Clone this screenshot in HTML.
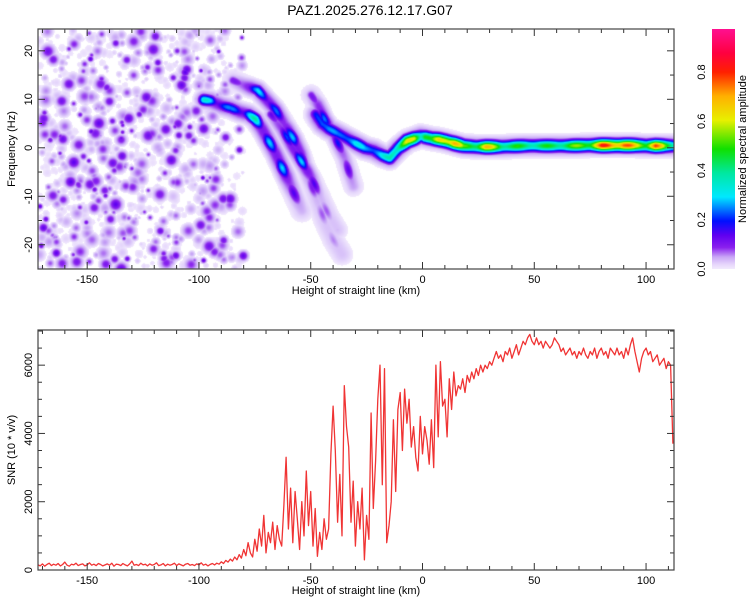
<!DOCTYPE html>
<html><head><meta charset="utf-8"><style>
html,body{margin:0;padding:0;background:#fff;}
#wrap{position:relative;width:750px;height:600px;overflow:hidden;font-family:"Liberation Sans",sans-serif;}
canvas{position:absolute;left:38px;top:29px;}
svg{position:absolute;left:0;top:0;}
</style></head><body>
<div id="wrap">
<canvas id="spec" width="636" height="240"></canvas>
<svg id="svg" width="750" height="600">
<defs><linearGradient id="cbg" x1="0" y1="1" x2="0" y2="0">
<stop offset="0" stop-color="#f2eafd"/><stop offset="0.02" stop-color="#e6d5fb"/><stop offset="0.05" stop-color="#c9a6f6"/><stop offset="0.09" stop-color="#8a20ee"/><stop offset="0.14" stop-color="#6000f0"/><stop offset="0.2" stop-color="#0010ff"/><stop offset="0.3" stop-color="#00e8ff"/><stop offset="0.4" stop-color="#00e8a0"/><stop offset="0.5" stop-color="#10e000"/><stop offset="0.62" stop-color="#e8f000"/><stop offset="0.72" stop-color="#ffb000"/><stop offset="0.82" stop-color="#ff2000"/><stop offset="0.9" stop-color="#ff0040"/><stop offset="1" stop-color="#ff1090"/>
</linearGradient></defs>
<text x="370" y="15" font-size="14" text-anchor="middle" fill="#000">PAZ1.2025.276.12.17.G07</text>
<g id="top"></g>
<g id="bot"></g>
<rect x="712" y="29" width="23" height="240" fill="url(#cbg)"/>
<g id="cb"></g>
<text transform="translate(746,149) rotate(-90)" font-size="11" text-anchor="middle">Normalized spectral amplitude</text>
<text transform="translate(15,149) rotate(-90)" font-size="11" text-anchor="middle">Frequency (Hz)</text>
<text x="356" y="294" font-size="11" text-anchor="middle">Height of straight line (km)</text>
<text transform="translate(15,450) rotate(-90)" font-size="11" text-anchor="middle">SNR (10 * v/v)</text>
<text x="356" y="594" font-size="11" text-anchor="middle">Height of straight line (km)</text>
</svg>
</div>
<script>
// ---- data ----
const xTicks=[-150,-100,-50,0,50,100];
const freqTicks=[-20,-10,0,10,20];
const snrTicks=[0,2000,4000,6000];
const cbTicks=[0.0,0.2,0.4,0.6,0.8];
const track1=[[-98,10,.35],[-95,9.8,.45],[-90,8.8,.3],[-86,8.3,.25],[-82,7.5,.35],[-78,7,.45],[-75,6,.4],[-72,4,.25],[-69,1.5,.3],[-66,-1,.25],[-63,-4,.3],[-60,-7,.2],[-57,-10,.15],[-54,-13,.1]];
const track2=[[-85,14,.12],[-80,13,.18],[-74,12,.3],[-70,10,.35],[-66,8,.25],[-62,5,.2],[-58,2,.3],[-55,-1,.25],[-52,-5,.15],[-48,-10,.1],[-44,-15,.08],[-40,-19,.07],[-36,-22,.05]];
const track3=[[-68,7,.15],[-63,4,.2],[-58,0,.25],[-54,-3,.3],[-50,-6,.2],[-46,-10,.1],[-42,-14,.08],[-38,-17,.06]];
const track4=[[-50,11,.12],[-47,9,.2],[-44,6,.25],[-41,4,.2],[-38,1,.2],[-35,-2,.15],[-33,-5,.15],[-31,-8,.12]];
const track5=[[-48,7,.2],[-45,5,.3],[-42,4,.3],[-38,3,.25],[-34,2,.3],[-30,1,.35],[-26,0,.3],[-22,-.5,.3],[-18,-1.5,.35],[-15,-2,.4],[-11,0,.5],[-7,1.5,.65],[-4,2,.7],[-1,2.5,.45],[1,2.3,.6],[4,2,.5],[7,1.8,.7],[10,1.5,.8],[14,1,.85],[18,.5,.55],[24,.3,.6],[28,.3,.75],[35,.3,.55],[45,.5,.5],[55,.5,.5],[65,.5,.55],[75,.6,.65],[80,.6,.85],[90,.6,.9],[95,.6,.7],[100,.5,.65],[104,.5,.85],[108,.5,.6],[112,.5,.5]];
const snrStartKm=-172;
const snrValues=[
150,120,180,110,160,200,130,170,140,190,
120,160,230,140,110,170,150,200,130,160,
180,120,150,210,140,170,130,190,160,120,
150,180,140,200,110,170,160,130,190,150,
120,180,260,140,160,130,200,150,170,120,
180,140,160,210,130,150,190,120,170,140,
160,200,130,180,150,120,170,190,140,160,
130,180,150,210,140,170,120,160,190,150,
200,170,240,190,280,230,320,260,380,300,
450,350,600,420,800,500,380,900,550,1200,
700,1600,500,1100,800,1400,600,1300,900,700,
1900,3300,1200,2400,800,2300,1500,600,2000,1000,
2900,1300,2300,700,1800,400,1100,600,1500,900,
1200,3400,4800,3500,1400,2800,1000,5400,4200,3600,
1400,2600,700,2000,1200,2400,300,1600,900,4600,
1800,3200,5000,6000,2500,5900,800,1300,2000,4400,
2300,4700,5200,3500,5300,4300,5000,3600,4200,3300,
2900,4500,3400,4200,3800,3100,4400,3000,6000,3900,
6100,4800,5000,3900,5600,4700,5800,5100,5400,5300,
5600,5200,5700,5500,5800,5600,5900,5700,6000,5800,
6000,5900,6100,6000,6200,6400,6200,6300,6100,6400,
6300,6500,6200,6400,6600,6300,6500,6700,6600,6800,
6900,6700,6600,6800,6600,6700,6500,6700,6600,6500,
6600,6800,6700,6600,6400,6500,6300,6400,6500,6300,
6400,6200,6400,6300,6500,6300,6200,6400,6300,6500,
6200,6400,6500,6300,6400,6200,6500,6400,6300,6500,
6300,6400,6200,6500,6300,6600,6800,6400,6100,5800,
6200,6400,6500,6300,6400,6100,6200,6300,6000,6100,
6200,5900,6100,6000,3700];

// ---- axes ----
const L=38,R=674,xmin=-172,xmax=112.5;
const T1=29,B1=269,fmin=-25,fmax=24.5;
const T2=330,B2=570,smin=0,smax=7030;
const xs=k=>L+(k-xmin)/(xmax-xmin)*(R-L);
const yf=h=>T1+(fmax-h)/(fmax-fmin)*(B1-T1);
const ysn=v=>B2-(v-smin)/(smax-smin)*(B2-T2);
const NS='http://www.w3.org/2000/svg';
function mk(p,tag,attrs){const e=document.createElementNS(NS,tag);for(const k in attrs)e.setAttribute(k,attrs[k]);p.appendChild(e);return e;}

function frame(g,T,B,yfun,ymin,ymax,yMinorStep,yLabels,pre){
  for(let k=Math.ceil(xmin/10)*10;k<=xmax;k+=10){
    const maj=k%50===0,len=maj?7:4,x=xs(k);
    const a=mk(g,'line',{x1:x,x2:x,y1:B,y2:B-len,stroke:'#333','stroke-width':1});
    
    
    const b=mk(g,'line',{x1:x,x2:x,y1:T,y2:T+len,stroke:'#333','stroke-width':1});
    
    
  }
  xTicks.forEach(k=>{const t=mk(g,'text',{x:xs(k),y:B+14,'font-size':11,'text-anchor':'middle'});t.textContent=k;
    
    });
  for(let v=Math.ceil(ymin/yMinorStep)*yMinorStep;v<=ymax;v+=yMinorStep){
    const maj=yLabels.includes(v),len=maj?7:4,y=yfun(v);
    const a=mk(g,'line',{x1:L,x2:L+len,y1:y,y2:y,stroke:'#333','stroke-width':1});
    
    
    const b=mk(g,'line',{x1:R,x2:R-len,y1:y,y2:y,stroke:'#333','stroke-width':1});
    
    
  }
  yLabels.forEach(v=>{const y=yfun(v);const t=mk(g,'text',{transform:`translate(${L-6},${y}) rotate(-90)`,'font-size':11,'text-anchor':'middle'});t.textContent=v;
    
    });
  const r=mk(g,'rect',{x:L,y:T,width:R-L,height:B-T,fill:'none',stroke:'#444','stroke-width':1.2});
  
  
}
const gTop=document.getElementById('top'),gBot=document.getElementById('bot');

// SNR line
const pts=snrValues.map((v,i)=>xs(snrStartKm+i).toFixed(1)+','+ysn(v).toFixed(1)).join(' ');
const line=mk(gBot,'polyline',{points:pts,fill:'none',stroke:'#f03434','stroke-width':1.3,'stroke-linejoin':'round'});


frame(gTop,T1,B1,yf,fmin,fmax,5,freqTicks,'top-');
frame(gBot,T2,B2,ysn,smin,smax,500,snrTicks,'bottom-');

// colorbar ticks
const gcb=document.getElementById('cb');
cbTicks.forEach(v=>{const y=269-v/0.975*240;
  const t=mk(gcb,'text',{transform:`translate(705,${y}) rotate(-90)`,'font-size':11,'text-anchor':'middle'});t.textContent=v.toFixed(1);
  
  });

// ---- spectrogram ----
const W=636,H=240,f=new Float32Array(W*H);
function blob(cx,cy,s,a){const r=Math.ceil(3*s);
  for(let y=Math.max(0,Math.floor(cy-r));y<=Math.min(H-1,cy+r);y++)for(let x=Math.max(0,Math.floor(cx-r));x<=Math.min(W-1,cx+r);x++){
    const d=(x-cx)*(x-cx)+(y-cy)*(y-cy);const v=a*Math.exp(-d/(2*s*s));const i=y*W+x;if(v>f[i])f[i]=v;}}
// background noise texture (seeded)
let seed=12345;const rnd=()=>{seed=(seed*1103515245+12345)%2147483648;return seed/2147483648;};
for(let i=0;i<1200;i++){const k=-172+rnd()*92;const hz=fmin+rnd()*(fmax-fmin);const p=rnd();const s=1.6+rnd()*3;
  if(k>-88&&rnd()<0.6)continue;
  blob(xs(k)-L,yf(hz)-T1,s,0.022+p*p*p*p*0.13);}
function drawTrack(tr,s,mod){let d=0;
  for(let j=0;j<tr.length-1;j++){const [k0,h0,a0]=tr[j],[k1,h1,a1]=tr[j+1];
    const x0=xs(k0)-L,y0=yf(h0)-T1,x1=xs(k1)-L,y1=yf(h1)-T1;const len=Math.hypot(x1-x0,y1-y0);const n=Math.max(1,Math.ceil(len));
    for(let q=0;q<n;q++){const t=q/n;const x=x0+(x1-x0)*t,y=y0+(y1-y0)*t;const a=a0+(a1-a0)*t;d+=len/n;
      blob(x,y,s*2.4,0.04);blob(x,y,s*1.6,Math.min(0.12,a*0.5));blob(x,y,s,a*(1-mod+mod*Math.cos(d/4.5)));}}}
drawTrack(track1,3.6,0.3);drawTrack(track2,3.4,0.3);drawTrack(track3,3.2,0.3);drawTrack(track4,3.2,0.3);drawTrack(track5,3.9,0.12);
const stops=[[0.015,[242,234,253]],[0.03,[226,210,251]],[0.06,[196,160,245]],[0.1,[140,40,238]],[0.15,[96,0,240]],[0.2,[0,16,255]],[0.3,[0,232,255]],[0.4,[0,232,160]],[0.5,[16,224,0]],[0.62,[232,240,0]],[0.72,[255,176,0]],[0.82,[255,32,0]],[0.9,[255,0,64]],[1,[255,16,144]]];
function cmap(v){if(v>=1)return stops[stops.length-1][1];for(let i=0;i<stops.length-1;i++){const [a,c0]=stops[i],[b,c1]=stops[i+1];if(v<=b){const t=(v-a)/(b-a);return c0.map((c,j)=>c+(c1[j]-c)*t);}}}
const ctx=document.getElementById('spec').getContext('2d');const img=ctx.createImageData(W,H);
for(let i=0;i<W*H;i++){const v=f[i];let c=[255,255,255];if(v>=0.015)c=cmap(v);img.data[i*4]=c[0];img.data[i*4+1]=c[1];img.data[i*4+2]=c[2];img.data[i*4+3]=255;}
ctx.putImageData(img,0,0);
</script>
</body></html>
